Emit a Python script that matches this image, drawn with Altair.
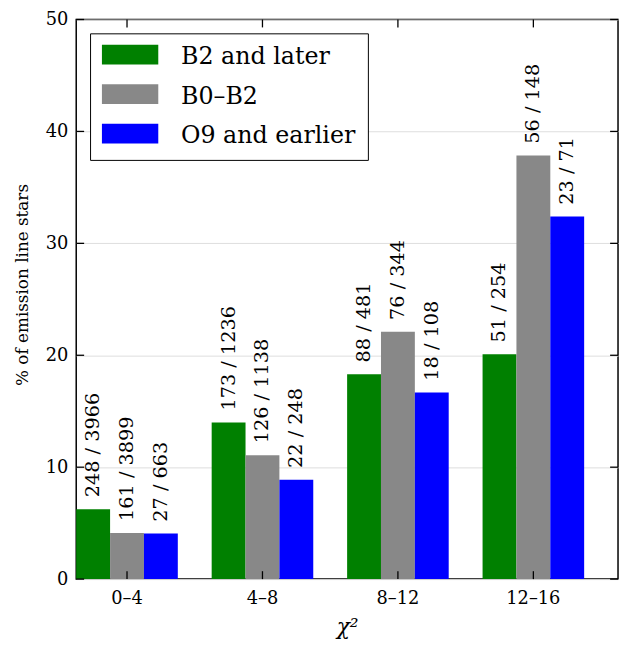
import altair as alt
import pandas as pd

groups = ["0–4", "4–8", "8–12", "12–16"]
series = ["B2 and later", "B0–B2", "O9 and earlier"]
colors = ["#008000", "#888888", "#0000ff"]

b2_later = [6.25, 14.0, 18.3, 20.08]
b0_b2 = [4.13, 11.07, 22.09, 37.84]
o9_earlier = [4.07, 8.87, 16.67, 32.39]

b2_later_lbl = ["248 / 3966", "173 / 1236", "88 / 481", "51 / 254"]
b0_b2_lbl = ["161 / 3899", "126 / 1138", "76 / 344", "56 / 148"]
o9_earlier_lbl = ["27 / 663", "22 / 248", "18 / 108", "23 / 71"]

y_ticks = [0, 10, 20, 30, 40, 50]

rows = []
for s, vals, lbls in zip(series, [b2_later, b0_b2, o9_earlier],
                         [b2_later_lbl, b0_b2_lbl, o9_earlier_lbl]):
    for g, v, l in zip(groups, vals, lbls):
        rows.append({"group": g, "series": s, "value": v, "label": l})
df = pd.DataFrame(rows)
df_yt = pd.DataFrame({"value": y_ticks})
df_xt = pd.DataFrame({"group": groups})

W, H = 548, 566
FONT = "DejaVu Serif"

x_enc = alt.X(
    "group:N", sort=groups,
    scale=alt.Scale(paddingInner=0.25, paddingOuter=0.125, align=0),
    axis=alt.Axis(title="χ²", labelAngle=0, titleFontStyle="italic",
                  titleY=55, titleBaseline="alphabetic"),
)
y_enc = alt.Y(
    "value:Q",
    scale=alt.Scale(domain=[0, 50], nice=False),
    axis=alt.Axis(title="% of emission line stars", values=y_ticks, grid=True,
                  titleX=-54, titleY=268, titleBaseline="middle", titleAngle=270,
                  titleAlign="center"),
)

legend_path = "M-1.2,-1.25L4.5,-1.25L4.5,0.75L-1.2,0.75Z"

bars = alt.Chart(df).mark_bar(opacity=1).encode(
    x=x_enc,
    xOffset=alt.XOffset("series:N", sort=series),
    y=y_enc,
    color=alt.Color(
        "series:N",
        scale=alt.Scale(domain=series, range=colors),
        legend=alt.Legend(
            title=None, orient="none", legendX=14, legendY=14,
            symbolType=legend_path, symbolSize=400, symbolStrokeWidth=0,
            symbolOpacity=1, labelFont=FONT, labelFontSize=24,
            labelColor="black", labelOffset=56, labelLimit=400,
            rowPadding=15, padding=12, strokeColor="black",
            fillColor="white", cornerRadius=0,
        ),
    ),
)

texts = alt.Chart(df).mark_text(
    angle=270, align="left", baseline="middle", dx=12,
    font=FONT, fontSize=19.5, color="black",
).encode(
    x=alt.X("group:N", sort=groups),
    xOffset=alt.XOffset("series:N", sort=series),
    y=y_enc,
    text="label:N",
)

tick_style = dict(color="black", strokeWidth=1.3)
yt_left = alt.Chart(df_yt).mark_rule(**tick_style).encode(
    y=y_enc, x=alt.value(0), x2=alt.value(8))
yt_right = alt.Chart(df_yt).mark_rule(**tick_style).encode(
    y=y_enc, x=alt.value(W - 8), x2=alt.value(W))
xt_bottom = alt.Chart(df_xt).mark_rule(**tick_style).encode(
    x=alt.X("group:N", sort=groups), y=alt.value(H), y2=alt.value(H - 8))
xt_top = alt.Chart(df_xt).mark_rule(**tick_style).encode(
    x=alt.X("group:N", sort=groups), y=alt.value(0), y2=alt.value(8))

chart = alt.layer(bars, texts, yt_left, yt_right, xt_bottom, xt_top).properties(
    width=W, height=H,
    background="white",
    autosize=alt.AutoSizeParams(type="none"),
    padding={"left": 69, "top": 8, "right": 2, "bottom": 62},
).configure_view(
    stroke="black", strokeWidth=1.5, fill="white",
).configure_axis(
    domain=False, ticks=False, tickSize=0,
    labelFont=FONT, labelFontSize=18, labelColor="black",
    titleFont=FONT, titleFontSize=17, titleFontWeight="normal", titleColor="black",
    gridColor="#dedede", gridWidth=1,
).configure_axisX(
    grid=False, titleFontSize=22, labelPadding=10.5,
).configure_axisY(
    labelPadding=8.5,
)

chart.save("out.html", embed_options={"renderer": "svg", "actions": False})
